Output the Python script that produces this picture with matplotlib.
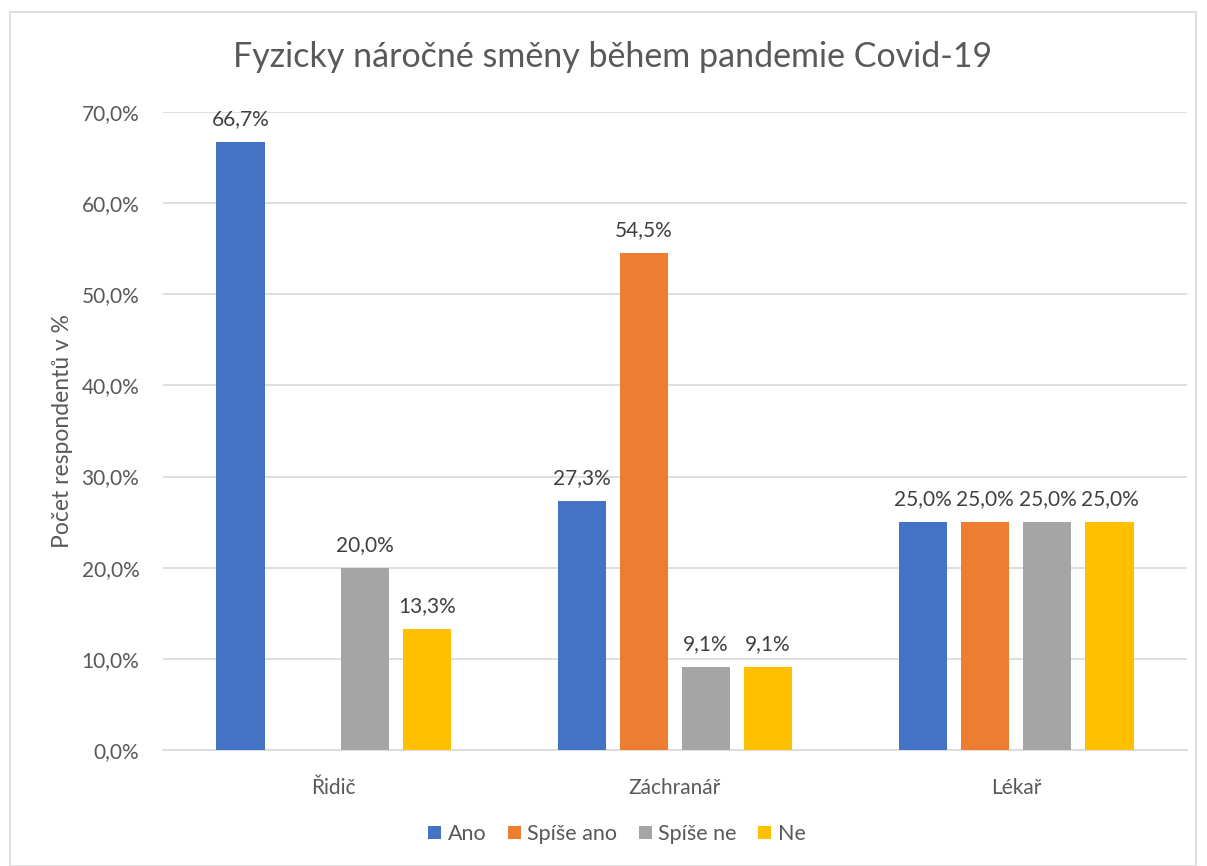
import numpy as np
import matplotlib.pyplot as plt
import matplotlib.patches as patches
import matplotlib.ticker as ticker

plt.rcParams['font.family'] = ['Lato', 'DejaVu Sans']

categories = ['Řidič', 'Záchranář', 'Lékař']
series = ['Ano', 'Spíše ano', 'Spíše ne', 'Ne']
values = {
    'Ano':       [66.7, 27.3, 25.0],
    'Spíše ano': [np.nan, 54.5, 25.0],
    'Spíše ne':  [20.0, 9.1, 25.0],
    'Ne':        [13.3, 9.1, 25.0],
}
colors = ['#4472C4', '#ED7D31', '#A5A5A5', '#FFC000']
title = 'Fyzicky náročné směny během pandemie Covid-19'
ylabel = 'Počet respondentů v %'

text_col = '#595959'

fig = plt.figure(figsize=(12.07, 8.66), dpi=100)
ax = fig.add_axes([163/1207, 116/866, (1187-163)/1207, (750-112)/866])

# outer chart border
fig.patches.append(patches.Rectangle((10/1207, 0.0), 1186/1207, (866-12)/866,
                                     transform=fig.transFigure, fill=False,
                                     edgecolor='#D9D9D9', linewidth=1.2))

x = np.arange(len(categories))
slot = 0.182
bw = 0.141
for i, (name, col) in enumerate(zip(series, colors)):
    vals = np.array(values[name], dtype=float)
    pos = x + (i - 1.5) * slot
    ax.bar(pos, np.nan_to_num(vals), width=bw, color=col, label=name, zorder=3)
    for p, v in zip(pos, vals):
        if np.isnan(v):
            continue
        ax.text(p, v + 1.4, ('%.1f' % v).replace('.', ',') + '%',
                ha='center', va='bottom', fontsize=15, color='#404040')

ax.set_xlim(-0.5, 2.5)
ax.set_ylim(0, 70)
ax.set_yticks(np.arange(0, 71, 10))
ax.yaxis.set_major_formatter(ticker.FuncFormatter(lambda v, p: ('%.1f' % v).replace('.', ',') + '%'))
ax.set_xticks(x)
ax.set_xticklabels(categories)
ax.tick_params(axis='both', length=0, labelsize=15, colors=text_col)
ax.tick_params(axis='x', pad=20)
ax.tick_params(axis='y', pad=17)
ax.grid(axis='y', color='#D9D9D9', linewidth=1.2, zorder=0)
for s in ['top', 'right', 'left']:
    ax.spines[s].set_visible(False)
ax.spines['bottom'].set_color('#D9D9D9')
ax.spines['bottom'].set_linewidth(1.2)

ax.set_ylabel(ylabel, fontsize=16.5, color=text_col)
ax.yaxis.set_label_coords(-90/1024, 0.5)

fig.text(613/1207, 1 - 57/866, title, ha='center', va='center', fontsize=24.5, color=text_col)

leg = ax.legend(loc='center', bbox_to_anchor=(617/1207, 1 - 834/866),
                bbox_transform=fig.transFigure, ncol=4, frameon=False,
                fontsize=15.5, handlelength=0.6, handleheight=0.6,
                handletextpad=0.3, columnspacing=1.0)
for t in leg.get_texts():
    t.set_color(text_col)

fig.savefig('out.png', dpi=100, facecolor='white')
